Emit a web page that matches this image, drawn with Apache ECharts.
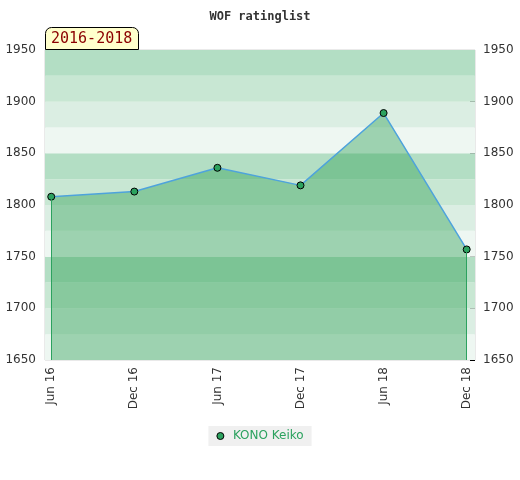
<!DOCTYPE html>
<html>
<head>
<meta charset="utf-8">
<script src="https://cdn.jsdelivr.net/npm/echarts@6/dist/echarts.min.js"></script>
<style type="text/css">
html, body{margin:0;padding:0;background:#fff;}
#main{width:520px;height:480px;}
</style>
</head>
<body>
<div id="main"></div>
<script>
// data
var categories = ['Jun 16', 'Dec 16', 'Jun 17', 'Dec 17', 'Jun 18', 'Dec 18'];
var ratings = [1808, 1813, 1836, 1819, 1889, 1757];
var yTicks = [1650, 1700, 1750, 1800, 1850, 1900, 1950];
var playerName = 'KONO Keiko';
var periodLabel = '2016-2018';

var yMin = yTicks[0], yMax = yTicks[yTicks.length - 1];

// background bands every 25 points, 4 shades repeating from the bottom
var bandColors = ['#eef7f2', '#dbeee3', '#c8e7d3', '#b3dec4'];
var bands = [];
for (var v = yMin, k = 0; v < yMax; v += 25, k++) {
    bands.push([{yAxis: v, itemStyle: {color: bandColors[k % 4], opacity: 1}}, {yAxis: v + 25}]);
}

var points = ratings.map(function (r, i) { return [i, r]; });
var last = ratings.length - 1;

var chart = echarts.init(document.getElementById('main'));

function catLabel(v) {
    var r = Math.round(v);
    if (Math.abs(v - r) > 1e-6 || r < 0 || r >= categories.length) return '';
    return categories[r];
}
function plain(v) { return String(v); }

var option = {
    backgroundColor: '#fff',
    animation: false,
    title: [{
        text: 'WOF ratinglist',
        left: 'center',
        top: 6,
        textStyle: {fontFamily: 'DejaVu Sans Mono', fontWeight: 'bold', fontSize: 12, color: '#333'}
    }, {
        text: periodLabel,
        left: 45,
        top: 27,
        padding: [4, 6, 3, 6],
        backgroundColor: '#ffffcc',
        borderColor: '#000',
        borderWidth: 1,
        borderRadius: [6, 6, 0, 0],
        textStyle: {fontFamily: 'DejaVu Sans Mono', fontWeight: 'normal', fontSize: 15, lineHeight: 16, color: '#8b0000'}
    }],
    legend: {
        data: [playerName],
        bottom: 34,
        left: 'center',
        backgroundColor: '#f0f0f0',
        padding: [4, 8, 4, 8],
        itemWidth: 7,
        itemHeight: 7,
        itemGap: 10,
        icon: 'circle',
        itemStyle: {color: '#2ca25f', borderColor: '#000', borderWidth: 1},
        textStyle: {color: '#2ca25f', fontSize: 12, fontFamily: 'DejaVu Sans', padding: [0, 0, 0, 4]}
    },
    grid: {
        left: 45, right: 45, top: 50, bottom: 120,
        show: true, borderColor: '#d4d4d4', borderWidth: 1, backgroundColor: 'transparent'
    },
    xAxis: {
        type: 'value',
        min: -0.075,
        max: 5.1,
        minInterval: 1,
        maxInterval: 1,
        splitLine: {show: false},
        axisLine: {show: false},
        axisTick: {show: false},
        axisLabel: {
            rotate: 90,
            margin: 7,
            fontSize: 12,
            fontFamily: 'DejaVu Sans',
            color: '#333',
            formatter: catLabel
        }
    },
    yAxis: [{
        type: 'value',
        min: yMin, max: yMax, interval: 50,
        position: 'left',
        splitLine: {show: false},
        axisLine: {show: false},
        axisTick: {show: false},
        axisLabel: {fontSize: 12, fontFamily: 'DejaVu Sans', color: '#333', margin: 9, formatter: plain}
    }, {
        type: 'value',
        min: yMin, max: yMax, interval: 50,
        position: 'right',
        splitLine: {show: false},
        axisLine: {show: false},
        axisTick: {show: true, inside: true, length: 5, lineStyle: {color: '#000'}},
        minorTick: {show: true, splitNumber: 5, length: 3, lineStyle: {color: '#000'}},
        axisLabel: {fontSize: 12, fontFamily: 'DejaVu Sans', color: '#333', margin: 8, formatter: plain}
    }],
    series: [{
        name: 'bands',
        type: 'line',
        data: [],
        silent: true,
        z: 0,
        markArea: {silent: true, data: bands}
    }, {
        name: playerName,
        type: 'line',
        data: points,
        z: 3,
        symbol: 'circle',
        symbolSize: 7,
        itemStyle: {color: '#2ca25f', borderColor: '#000', borderWidth: 1},
        lineStyle: {color: '#4ea3dc', width: 1.5},
        areaStyle: {color: '#32a257', opacity: 0.43, origin: 'start'},
        markLine: {
            silent: true,
            symbol: 'none',
            label: {show: false},
            lineStyle: {color: '#2ca25f', width: 1, type: 'solid'},
            data: [
                [{coord: [0, yMin]}, {coord: [0, ratings[0]]}],
                [{coord: [last, yMin]}, {coord: [last, ratings[last]]}]
            ]
        }
    }]
};

chart.setOption(option);
</script>
</body>
</html>
